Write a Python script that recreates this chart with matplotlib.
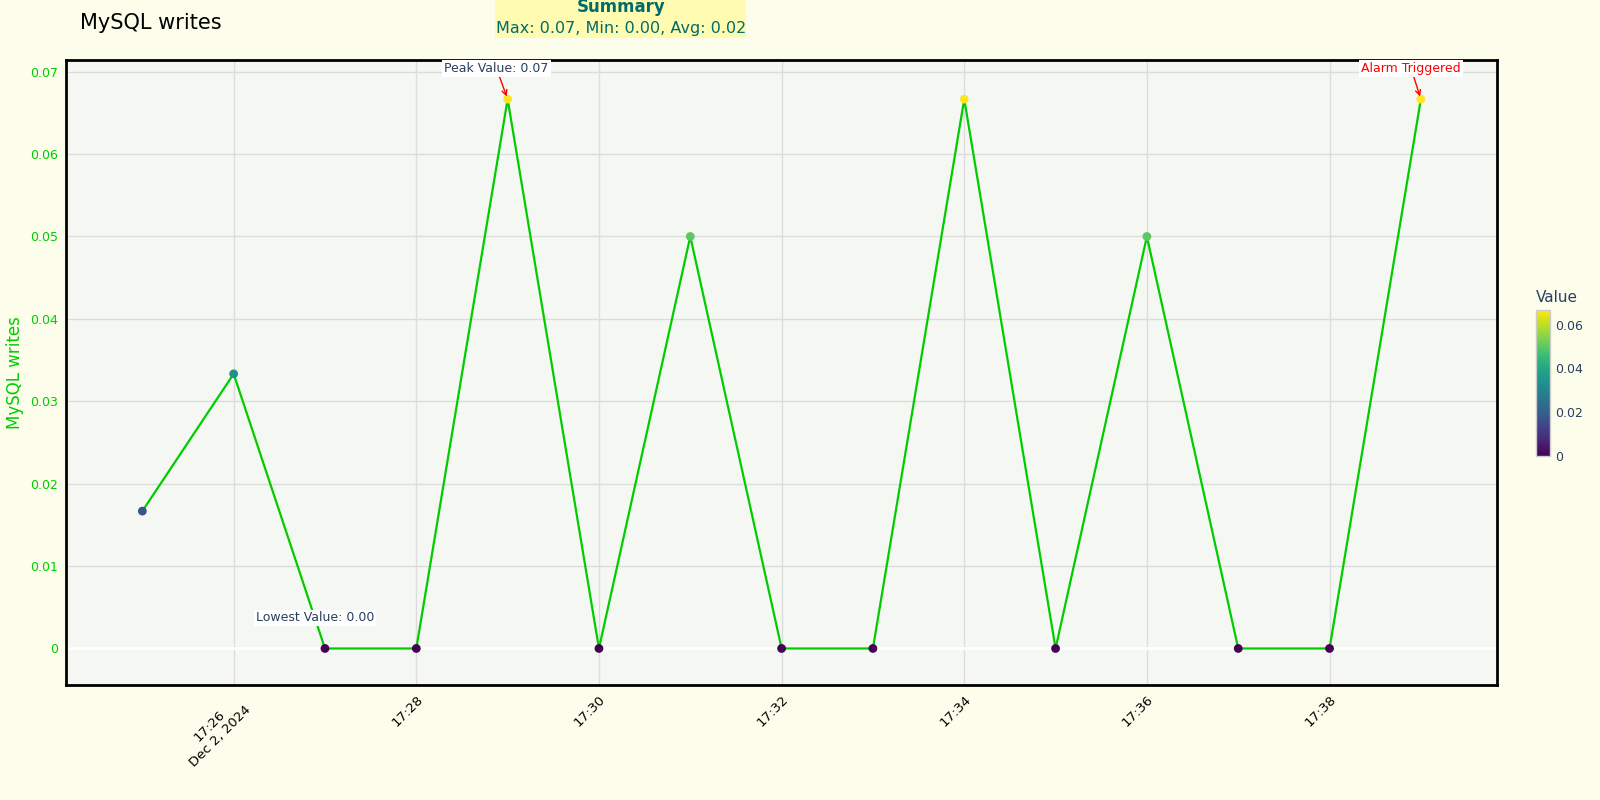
import numpy as np
import pandas as pd
import matplotlib
matplotlib.use("Agg")
import matplotlib.pyplot as plt

# Data
times = pd.date_range("2024-12-02 17:25", periods=15, freq="min")
values = [0.01667, 0.03333, 0.0, 0.0, 0.06667, 0.0, 0.05, 0.0, 0.0,
          0.06667, 0.0, 0.05, 0.0, 0.0, 0.06667]
tick_times = pd.date_range("2024-12-02 17:26", periods=7, freq="2min")
tick_labels = ["17:26\nDec 2, 2024", "17:28", "17:30", "17:32", "17:34", "17:36", "17:38"]
y_ticks = [0, 0.01, 0.02, 0.03, 0.04, 0.05, 0.06, 0.07]
y_tick_labels = ["0", "0.01", "0.02", "0.03", "0.04", "0.05", "0.06", "0.07"]
cbar_ticks = [0, 0.02, 0.04, 0.06]
cbar_labels = ["0", "0.02", "0.04", "0.06"]

vals = np.array(values)
vmax, vmin, vavg = vals.max(), vals.min(), vals.mean()

bg = "#fdfdec"
green = "#00cc00"
slate = "#2a3f5f"

fig = plt.figure(figsize=(16, 8), dpi=100, facecolor=bg)
ax = fig.add_axes([0.0414, 0.1441, 0.8942, 0.7807])
ax.set_facecolor("#f5f8f2")
ax.set_axisbelow(True)

ax.plot(times, vals, color=green, linewidth=1.6, zorder=2)
sc = ax.scatter(times, vals, c=vals, cmap="viridis", vmin=0, vmax=vmax,
                s=40, zorder=3, edgecolors="none")

pad = pd.Timedelta(seconds=50)
ax.set_xlim(times[0] - pad, times[-1] + pad)
ax.set_ylim(-0.0044, 0.0714)

ax.set_xticks(tick_times)
ax.set_xticklabels(tick_labels, rotation=45, ha="right", rotation_mode="anchor",
                   fontsize=9.5, color="black", multialignment="center")
ax.set_yticks(y_ticks)
ax.set_yticklabels(y_tick_labels, fontsize=9, color=green)
ax.tick_params(axis="both", length=0, pad=6)
ax.grid(True, color="#dcdcdc", linewidth=1, zorder=0.5)
ax.axhline(0, color="white", linewidth=2, zorder=1)
for s in ax.spines.values():
    s.set_color("black")
    s.set_linewidth(2)

ax.set_ylabel("MySQL writes", color=green, fontsize=12, labelpad=4)

# Annotations
i_max = int(np.argmax(vals))
ax.annotate("Peak Value: %.2f" % vmax, xy=(times[i_max], vals[i_max]),
            xytext=(-8, 22), textcoords="offset points", ha="center", va="center",
            fontsize=9, color=slate,
            bbox=dict(boxstyle="square,pad=0.15", fc="white", ec="none"),
            arrowprops=dict(arrowstyle="->", color="red", lw=1,
                            shrinkA=0, shrinkB=2))
ax.annotate("Alarm Triggered", xy=(times[-1], vals[-1]),
            xytext=(-7, 22), textcoords="offset points", ha="center", va="center",
            fontsize=9, color="red",
            bbox=dict(boxstyle="square,pad=0.15", fc="white", ec="none"),
            arrowprops=dict(arrowstyle="->", color="red", lw=1,
                            shrinkA=0, shrinkB=2))
i_min = int(np.argmin(vals))
ax.annotate("Lowest Value: %.2f" % vmin, xy=(times[i_min], vals[i_min]),
            xytext=(-7, 22), textcoords="offset points", ha="center", va="center",
            fontsize=9, color=slate,
            bbox=dict(boxstyle="square,pad=0.15", fc="white", ec="none"))

# Title and summary
fig.text(0.05, 0.971, "MySQL writes", fontsize=15, color="black", va="center", ha="left")
fig.text(0.388, 0.991, "Summary", fontsize=12, color="#006b6b", weight="bold",
         ha="center", va="center")
fig.text(0.388, 0.965, "Max: %.2f, Min: %.2f, Avg: %.2f" % (vmax, vmin, vavg),
         fontsize=11.5, color="#006b6b", ha="center", va="center")
fig.patches.append(plt.Rectangle((0.3095, 0.952), 0.157, 0.048, transform=fig.transFigure,
                                 facecolor="#fffbb0", edgecolor="none", zorder=0))

# Colorbar
cax = fig.add_axes([0.96, 0.43, 0.00875, 0.1825])
cb = fig.colorbar(sc, cax=cax)
cb.set_ticks(cbar_ticks)
cb.set_ticklabels(cbar_labels)
cb.ax.tick_params(labelsize=9, labelcolor=slate, length=0, pad=4)
cb.outline.set_edgecolor("#cccccc")
cb.outline.set_linewidth(1)
cax.set_title("Value", fontsize=11, color=slate, loc="left", pad=6)

fig.savefig("out.png", dpi=100, facecolor=bg)
